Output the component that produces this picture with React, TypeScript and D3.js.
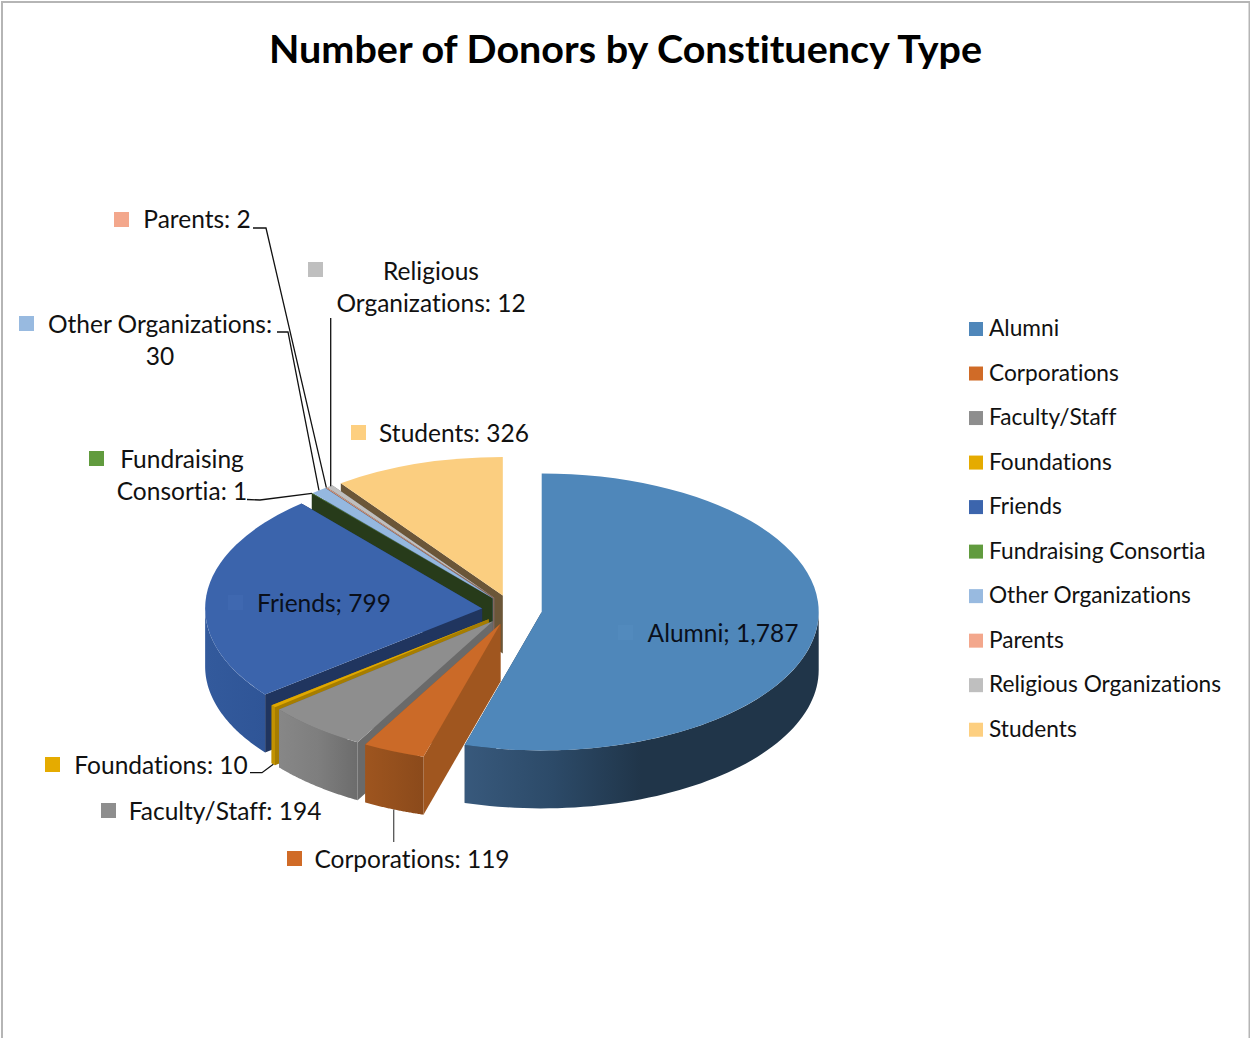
import * as d3 from "d3";

const categories = [
  "Alumni",
  "Corporations",
  "Faculty/Staff",
  "Foundations",
  "Friends",
  "Fundraising Consortia",
  "Other Organizations",
  "Parents",
  "Religious Organizations",
  "Students",
];
const values = [1787, 119, 194, 10, 799, 1, 30, 2, 12, 326];
const topColors = ["#4F87BA", "#CB6A28", "#8E8E8E", "#E0A800", "#3B64AC", "#5F9A3D", "#95B8DF", "#F2A88C", "#BFBFBF", "#FBCE80"];
const legendColors = ["#4F87BA", "#D06B27", "#8E8E8E", "#E5AB00", "#3C65AD", "#619B3E", "#98BAE0", "#F3A78C", "#BFBFBF", "#FDCF80"];
const wallColors = ["#22394F", "#A0561F", "#6A6A6A", "#A67D00", "#20355F", "#273B1A", "#5A7390", "#8F6350", "#777777", "#6B5638"];
// outer wall shading, left to right
const wallRamps: Record<string, string[]> = {
  Alumni: ["#38597C", "#2C4A68", "#203549", "#203549", "#203549"],
  Corporations: ["#9E551F", "#8B4A1B"],
  "Faculty/Staff": ["#878787", "#7E7E7E", "#6C6C6C"],
  Foundations: ["#C29200", "#C29200"],
  Friends: ["#335A9C", "#2F5597"],
};
// back to front
const drawOrder = ["Students", "Religious Organizations", "Parents", "Other Organizations", "Fundraising Consortia", "Friends", "Foundations", "Faculty/Staff", "Corporations", "Alumni"];

const FONT = "Lato, 'Open Sans', sans-serif";
const cx = 512;
const cy = 609.8;
const rx = 277;
const squash = 0.5;
const depth = 58;
const explode = 30;

const arcs = d3
  .pie<number>()
  .sort(null)
  .value((d) => d)(values);

const slices = arcs.map((a, i) => {
  const mid = (a.startAngle + a.endAngle) / 2;
  return {
    name: categories[i],
    startAngle: a.startAngle,
    endAngle: a.endAngle,
    mid,
    x: cx + explode * Math.sin(mid),
    y: cy - explode * squash * Math.cos(mid),
    top: topColors[i],
    wall: wallColors[i],
  };
});
type Slice = (typeof slices)[number];

const line = d3.line();
const topArc = d3.arc();

function rim(s: Slice, angle: number, drop = 0): [number, number] {
  return [s.x + rx * Math.sin(angle), s.y - rx * squash * Math.cos(angle) + drop];
}

function sideWall(s: Slice, angle: number) {
  return (
    line([
      [s.x, s.y],
      rim(s, angle),
      rim(s, angle, depth),
      [s.x, s.y + depth],
    ]) + "Z"
  );
}

function outerWall(s: Slice) {
  const a0 = Math.max(s.startAngle, Math.PI / 2);
  const a1 = Math.min(s.endAngle, (3 * Math.PI) / 2);
  if (a1 <= a0) return null;
  const angles = d3.range(0, 61).map((k) => a0 + ((a1 - a0) * k) / 60);
  const upper = angles.map((a) => rim(s, a));
  const lower = angles.map((a) => rim(s, a, depth)).reverse();
  return line([...upper, ...lower]) + "Z";
}

function wallExtent(s: Slice) {
  const a0 = Math.max(s.startAngle, Math.PI / 2);
  const a1 = Math.min(s.endAngle, (3 * Math.PI) / 2);
  const xs = d3.range(0, 61).map((k) => rim(s, a0 + ((a1 - a0) * k) / 60)[0]);
  return d3.extent(xs) as [number, number];
}

function sliceNamed(name: string) {
  return slices.find((s) => s.name === name)!;
}

function rimMid(name: string, drop = 0) {
  const s = sliceNamed(name);
  return rim(s, s.mid, drop);
}

// label boxes: text lines around the pie, plus the small colour key
const outsideLabels = [
  { name: "Parents", lines: ["Parents: 2"], x: 197, y: 228, keyX: 114, keyY: 212 },
  { name: "Religious Organizations", lines: ["Religious", "Organizations: 12"], x: 431, y: 279.5, keyX: 308, keyY: 262 },
  { name: "Other Organizations", lines: ["Other Organizations:", "30"], x: 160, y: 332.5, keyX: 19, keyY: 316 },
  { name: "Students", lines: ["Students: 326"], x: 454, y: 442, keyX: 351, keyY: 425 },
  { name: "Fundraising Consortia", lines: ["Fundraising", "Consortia: 1"], x: 182, y: 467.5, keyX: 89, keyY: 451 },
  { name: "Foundations", lines: ["Foundations: 10"], x: 161, y: 774, keyX: 45, keyY: 757 },
  { name: "Faculty/Staff", lines: ["Faculty/Staff: 194"], x: 225, y: 820, keyX: 101, keyY: 803 },
  { name: "Corporations", lines: ["Corporations: 119"], x: 412, y: 868, keyX: 287, keyY: 851 },
];
const insideLabels = [
  { text: "Friends; 799", x: 324, y: 612, keyX: 228, keyY: 595, key: "#3F68B0" },
  { text: "Alumni; 1,787", x: 723, y: 642, keyX: 618, keyY: 625, key: "#528ABD" },
];

const leaders = [
  { points: [[253, 228], [266, 228], rimMid("Parents")], stroke: "#111" },
  { points: [[277, 332], [288, 332], rimMid("Other Organizations")], stroke: "#111" },
  { points: [[330.7, 318], [330.7, rimMid("Religious Organizations")[1]]], stroke: "#111" },
  { points: [[247, 499.5], [260, 500], rimMid("Fundraising Consortia")], stroke: "#111" },
  { points: [[250, 772.7], [262, 772.7], rimMid("Foundations", depth)], stroke: "#111" },
  { points: [[393.7, 842], [393.7, rimMid("Corporations", depth)[1]]], stroke: "#555" },
];

const legendY = d3
  .scalePoint<string>()
  .domain(categories)
  .range([336, 736.7]);

export default function App() {
  const ordered = drawOrder.map(sliceNamed);
  return (
    <svg
      width={1250}
      height={1038}
      style={{ position: "absolute", left: 0, top: 0, background: "#fff", fontVariantLigatures: "none" }}
      fontFamily={FONT}
    >
      <defs>
        {slices.map((s, i) => {
          const ramp = wallRamps[s.name];
          if (!ramp || !outerWall(s)) return null;
          const [x0, x1] = wallExtent(s);
          return (
            <linearGradient key={s.name} id={`wall-${i}`} gradientUnits="userSpaceOnUse" x1={x0} x2={x1} y1={0} y2={0}>
              {ramp.map((c, k) => (
                <stop key={k} offset={k / (ramp.length - 1)} stopColor={c} />
              ))}
            </linearGradient>
          );
        })}
      </defs>

      <path d="M2,1038V2H1249.5V1038" fill="none" stroke="#B5B5B5" strokeWidth={2} />

      <text x={625.5} y={63} textAnchor="middle" fontSize={38} fontWeight={700} fill="#000" textLength={713} lengthAdjust="spacingAndGlyphs">
        Number of Donors by Constituency Type
      </text>

      {ordered.map((s) => {
        const idx = categories.indexOf(s.name);
        const wallPath = outerWall(s);
        return (
          <g key={s.name}>
            <path d={sideWall(s, s.startAngle)} fill={s.wall} />
            <path d={sideWall(s, s.endAngle)} fill={s.wall} />
            {wallPath && <path d={wallPath} fill={wallRamps[s.name] ? `url(#wall-${idx})` : s.wall} />}
            <path
              d={topArc({ innerRadius: 0, outerRadius: rx, startAngle: s.startAngle, endAngle: s.endAngle })!}
              transform={`translate(${s.x},${s.y}) scale(1,${squash})`}
              fill={s.top}
            />
          </g>
        );
      })}

      {leaders.map((l, i) => (
        <path key={i} d={line(l.points as [number, number][])!} fill="none" stroke={l.stroke} strokeWidth={1.3} />
      ))}

      {outsideLabels.map((l) => (
        <g key={l.name}>
          <rect x={l.keyX} y={l.keyY} width={15} height={15} fill={legendColors[categories.indexOf(l.name)]} />
          {l.lines.map((t, k) => (
            <text key={t} x={l.x} y={l.y + k * 32} textAnchor="middle" fontSize={24.5} fill="#111">
              {t}
            </text>
          ))}
        </g>
      ))}

      {insideLabels.map((l) => (
        <g key={l.text}>
          <rect x={l.keyX} y={l.keyY} width={15} height={15} fill={l.key} />
          <text x={l.x} y={l.y} textAnchor="middle" fontSize={24.5} fill="#0A0F1A">
            {l.text}
          </text>
        </g>
      ))}

      {categories.map((c, i) => (
        <g key={c}>
          <rect x={969} y={legendY(c)! - 14} width={14} height={14} fill={legendColors[i]} />
          <text x={989} y={legendY(c)!} fontSize={22.7} fill="#111">
            {c}
          </text>
        </g>
      ))}
    </svg>
  );
}
